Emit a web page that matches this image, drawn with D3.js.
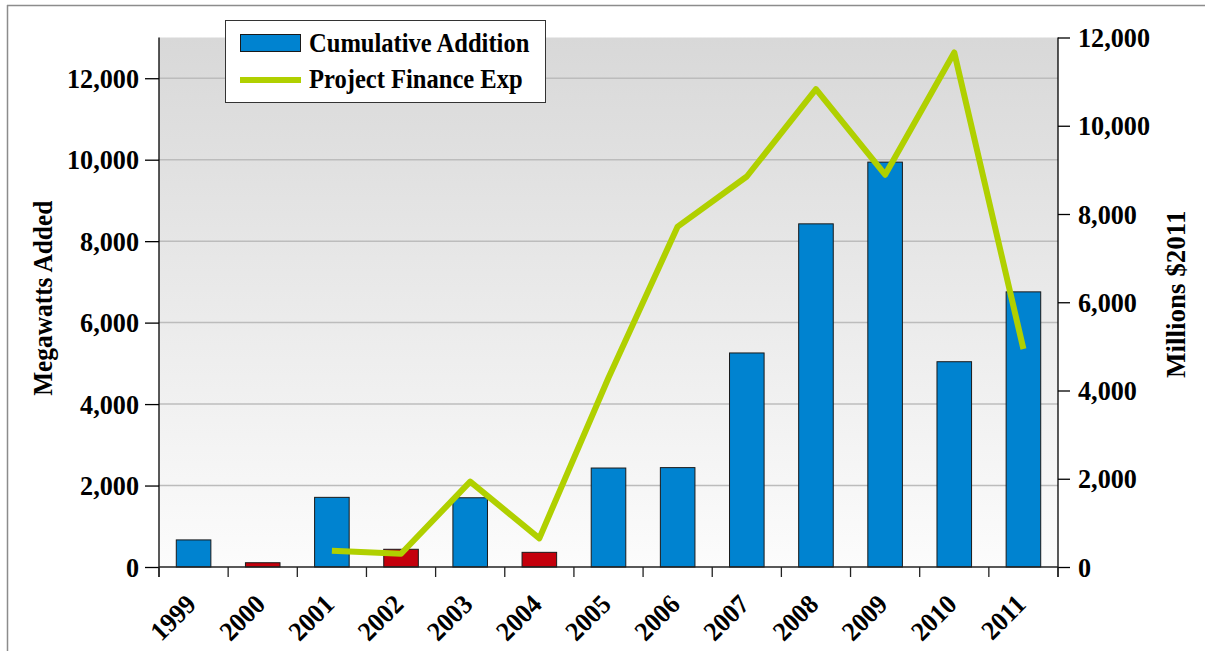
<!DOCTYPE html>
<html>
<head>
<meta charset="utf-8">
<script src="https://cdn.jsdelivr.net/npm/d3@7"></script>
<style>
  html, body { margin: 0; padding: 0; background: #fff; }
  svg { display: block; }
  text { font-family: "Liberation Serif", "Times New Roman", serif; font-weight: bold; fill: #000; }
</style>
</head>
<body>
<svg id="chart"></svg>
<script>
// data
const years = ['1999','2000','2001','2002','2003','2004','2005','2006','2007','2008','2009','2010','2011'];
const megawatts = [665, 105, 1710, 435, 1700, 360, 2430, 2440, 5255, 8425, 9940, 5040, 6755];
const financeExp = [null, null, 370, 300, 1935, 650, 4290, 7715, 8850, 10830, 8890, 11660, 4940];
const redYears = ['2000', '2002', '2004'];
const leftTicks = [0, 2000, 4000, 6000, 8000, 10000, 12000];
const rightTicks = [0, 2000, 4000, 6000, 8000, 10000, 12000];

const W = 1205, H = 651;
const plot = { left: 159, right: 1058, top: 37.5, bottom: 567 };
const fs = '27px';

const svg = d3.select('#chart').attr('width', W).attr('height', H);

// outer frame (only top and left edges visible)
svg.append('line').attr('x1', 7).attr('x2', W).attr('y1', 5.5).attr('y2', 5.5)
  .attr('stroke', '#8c8c8c').attr('stroke-width', 1.5);
svg.append('line').attr('x1', 7.5).attr('x2', 7.5).attr('y1', 5).attr('y2', H)
  .attr('stroke', '#8c8c8c').attr('stroke-width', 1.5);

const defs = svg.append('defs');
const grad = defs.append('linearGradient').attr('id', 'bg')
  .attr('x1', 0).attr('x2', 0).attr('y1', 0).attr('y2', 1);
grad.append('stop').attr('offset', '0%').attr('stop-color', '#d8d8d8');
grad.append('stop').attr('offset', '100%').attr('stop-color', '#fcfcfc');

const x = d3.scaleBand().domain(years).range([plot.left, plot.right])
  .paddingInner(0.5).paddingOuter(0.25);
const yL = d3.scaleLinear().domain([0, 13000]).range([plot.bottom, plot.top]);
const yR = d3.scaleLinear().domain([0, 12000]).range([plot.bottom, plot.top]);

svg.append('rect')
  .attr('x', plot.left).attr('y', plot.top)
  .attr('width', plot.right - plot.left).attr('height', plot.bottom - plot.top)
  .attr('fill', 'url(#bg)');

// gridlines
svg.append('g').selectAll('line').data(leftTicks.filter(d => d > 0)).join('line')
  .attr('x1', plot.left).attr('x2', plot.right)
  .attr('y1', d => yL(d)).attr('y2', d => yL(d))
  .attr('stroke', '#bcbcbc').attr('stroke-width', 1.5);

// bars
svg.append('g').selectAll('rect').data(years).join('rect')
  .attr('x', d => x(d))
  .attr('width', x.bandwidth())
  .attr('y', (d, i) => yL(megawatts[i]))
  .attr('height', (d, i) => yL(0) - yL(megawatts[i]))
  .attr('fill', d => redYears.includes(d) ? '#c4000c' : '#0083d0')
  .attr('stroke', '#1a1a1a').attr('stroke-width', 1);

// line
const pts = years.map((d, i) => ({ year: d, v: financeExp[i] })).filter(p => p.v != null);
svg.append('path').datum(pts)
  .attr('fill', 'none').attr('stroke', '#b0d000').attr('stroke-width', 6)
  .attr('stroke-linejoin', 'round')
  .attr('d', d3.line().x(p => x(p.year) + x.bandwidth() / 2).y(p => yR(p.v)));

// narrow the serif glyphs a little, like the source rendering
function squeezeTicks(sel, sx) {
  sel.each(function() {
    const t = d3.select(this);
    const tx = +t.attr('x');
    t.attr('x', 0).attr('transform', `translate(${tx},0) scale(${sx},1)`);
  });
}

// left axis
const leftAxis = svg.append('g')
  .attr('transform', `translate(${plot.left},0)`)
  .call(d3.axisLeft(yL).tickValues(leftTicks).tickFormat(d3.format(',')).tickSize(14).tickPadding(6));
leftAxis.select('.domain').remove();
leftAxis.selectAll('text').style('font-size', fs).attr('dy', '0.34em');
squeezeTicks(leftAxis.selectAll('text'), 0.97);
leftAxis.selectAll('line').attr('stroke', '#000').attr('stroke-width', 1.3);

// right axis
const rightAxis = svg.append('g')
  .attr('transform', `translate(${plot.right},0)`)
  .call(d3.axisRight(yR).tickValues(rightTicks).tickFormat(d3.format(',')).tickSize(12).tickPadding(8));
rightAxis.select('.domain').remove();
rightAxis.selectAll('text').style('font-size', fs).attr('dy', '0.34em');
squeezeTicks(rightAxis.selectAll('text'), 0.97);
rightAxis.selectAll('line').attr('stroke', '#000').attr('stroke-width', 1.3);

// vertical axis lines and baseline
svg.append('line').attr('x1', plot.left).attr('x2', plot.left).attr('y1', plot.top).attr('y2', plot.bottom + 10)
  .attr('stroke', '#000').attr('stroke-width', 1.3);
svg.append('line').attr('x1', plot.right).attr('x2', plot.right).attr('y1', plot.top).attr('y2', plot.bottom + 10)
  .attr('stroke', '#000').attr('stroke-width', 1.3);
svg.append('line').attr('x1', plot.left).attr('x2', plot.right).attr('y1', plot.bottom).attr('y2', plot.bottom)
  .attr('stroke', '#222').attr('stroke-width', 1.3);

// category boundary ticks
const step = x.step();
const bounds = d3.range(years.length + 1).map(i => plot.left + i * step);
svg.append('g').selectAll('line').data(bounds).join('line')
  .attr('x1', d => d).attr('x2', d => d)
  .attr('y1', plot.bottom).attr('y2', plot.bottom + 10)
  .attr('stroke', '#222').attr('stroke-width', 1.3);

// x labels
svg.append('g').selectAll('text').data(years).join('text')
  .attr('transform', d => `translate(${x(d) + x.bandwidth() / 2 + 4},${plot.bottom + 39}) rotate(-45) scale(0.95,1)`)
  .attr('text-anchor', 'end')
  .style('font-size', fs)
  .text(d => d);

// axis titles
svg.append('text')
  .attr('transform', `translate(52,${(plot.top + plot.bottom) / 2 - 4}) rotate(-90) scale(0.94,1)`)
  .attr('text-anchor', 'middle')
  .style('font-size', fs)
  .text('Megawatts Added');
svg.append('text')
  .attr('transform', `translate(1185,${(plot.top + plot.bottom) / 2 - 8}) rotate(-90)`)
  .attr('text-anchor', 'middle')
  .style('font-size', fs)
  .text('Millions $2011');

// legend
const lg = svg.append('g');
lg.append('rect').attr('x', 225.5).attr('y', 20.5).attr('width', 320).attr('height', 82)
  .attr('fill', '#fff').attr('stroke', '#333').attr('stroke-width', 1);
lg.append('rect').attr('x', 240.5).attr('y', 34.5).attr('width', 60).attr('height', 17)
  .attr('fill', '#0083d0').attr('stroke', '#1a1a1a').attr('stroke-width', 1);
lg.append('line').attr('x1', 240).attr('x2', 301).attr('y1', 80).attr('y2', 80)
  .attr('stroke', '#b0d000').attr('stroke-width', 6);
lg.append('text').attr('transform', 'translate(309,52) scale(0.91,1)').style('font-size', fs).text('Cumulative Addition');
lg.append('text').attr('transform', 'translate(309,88) scale(0.91,1)').style('font-size', fs).text('Project Finance Exp');
</script>
</body>
</html>
